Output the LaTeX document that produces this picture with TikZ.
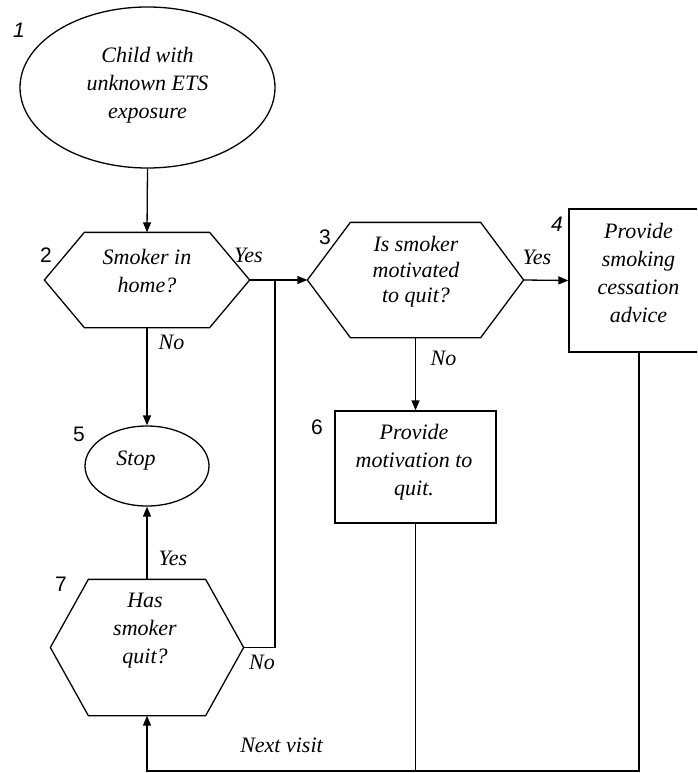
\documentclass[tikz,border=0pt]{standalone}
\usepackage{fontspec}
\setmainfont{Liberation Serif}
\newfontfamily\numfont{Liberation Sans}
\usetikzlibrary{arrows.meta,shapes.geometric}
\begin{document}
\begin{tikzpicture}[x=1pt,y=-1pt,
  line width=1.3pt,
  txt/.style={font=\fontsize{22}{28}\selectfont\itshape, align=center, inner sep=0pt},
  lbl/.style={font=\fontsize{22}{26}\selectfont\itshape, inner sep=0pt},
  num/.style={font=\numfont\fontsize{21}{24}\selectfont, inner sep=0pt},
  oval/.style={draw, ellipse, inner sep=0pt},
  frame/.style={draw, rectangle, inner sep=0pt},
  hexbox/.style={rectangle, inner sep=0pt},
  arr/.style={-{Triangle[length=10pt,width=8pt]}},
]
\useasboundingbox (0,0) rectangle (697,773);
\clip (0,0) rectangle (697,773);

% shapes
\node[oval, minimum width=255pt, minimum height=161pt] (n1) at (147.5,87.5) {};
\node[hexbox, minimum width=204pt, minimum height=94pt] (h2) at (147,280) {};
\node[hexbox, minimum width=215pt, minimum height=114pt] (h3) at (415.5,280) {};
\node[frame, minimum width=140pt, minimum height=143pt] (b4) at (639,280.5) {};
\node[oval, minimum width=124pt, minimum height=80pt] (st) at (147,466) {};
\node[frame, minimum width=161pt, minimum height=112pt] (b6) at (415.5,467) {};
\node[hexbox, minimum width=192pt, minimum height=135pt] (h7) at (147,647.5) {};

\foreach \n/\hoff in {h2/40,h3/43,h7/38}
  \draw (\n.west) -- ([xshift=\hoff pt]\n.north west) -- ([xshift=-\hoff pt]\n.north east)
        -- (\n.east) -- ([xshift=-\hoff pt]\n.south east) -- ([xshift=\hoff pt]\n.south west) -- cycle;

% texts
\node[txt] (t1) at (147.5,85) {Child with\\unknown ETS\\exposure};
\node[txt] (t2) at (147,271.5) {Smoker in\\home?};
\node[txt, font=\fontsize{22}{25.5}\selectfont\itshape] (t3) at (416,272) {Is smoker\\motivated\\to quit?};
\node[txt] (t4) at (638.5,273) {Provide\\smoking\\cessation\\advice};
\node[txt] (t5) at (136,461) {Stop};
\node[txt] (t6) at (414,462) {Provide\\motivation to\\quit.};
\node[txt] (t7) at (145,631) {Has\\smoker\\quit?};

% numbers
\node[num, font=\numfont\itshape\fontsize{21}{24}\selectfont] (k1) at (19,30) {1};
\node[num] (k2) at (46,255) {2};
\node[num] (k3) at (325,237) {3};
\node[num, font=\numfont\itshape\fontsize{21}{24}\selectfont] (k4) at (557,224) {4};
\node[num] (k5) at (79,434) {5};
\node[num] (k6) at (317,427) {6};
\node[num] (k7) at (61,584) {7};

% connectors
\coordinate (j1) at (275,280);
\coordinate (bl) at (147,771);
\draw[arr] (n1.south) -- (h2.north);
\draw[arr] (h2.east) -- (h3.west);
\draw (h7.east) -| (j1);
\draw[arr] (h3.east) -- (b4.west);
\draw[arr] (h3.south) -- (b6.north);
\draw[arr] (h2.south) -- (st.north);
\draw[arr] (h7.north) -- (st.south);
\draw (b6.south) -- (b6.south |- bl);
\draw[arr] (b4.south) |- (bl) -- (h7.south);

% labels
\node[lbl] (y1) at (248.5,255) {Yes};
\node[lbl] (no1) at (171.5,342) {No};
\node[lbl] (y2) at (537,257) {Yes};
\node[lbl] (no2) at (443.5,358) {No};
\node[lbl] (y3) at (173,558) {Yes};
\node[lbl] (no3) at (262,662) {No};
\node[lbl] (nv) at (281.5,745) {Next visit};
\end{tikzpicture}
\end{document}
